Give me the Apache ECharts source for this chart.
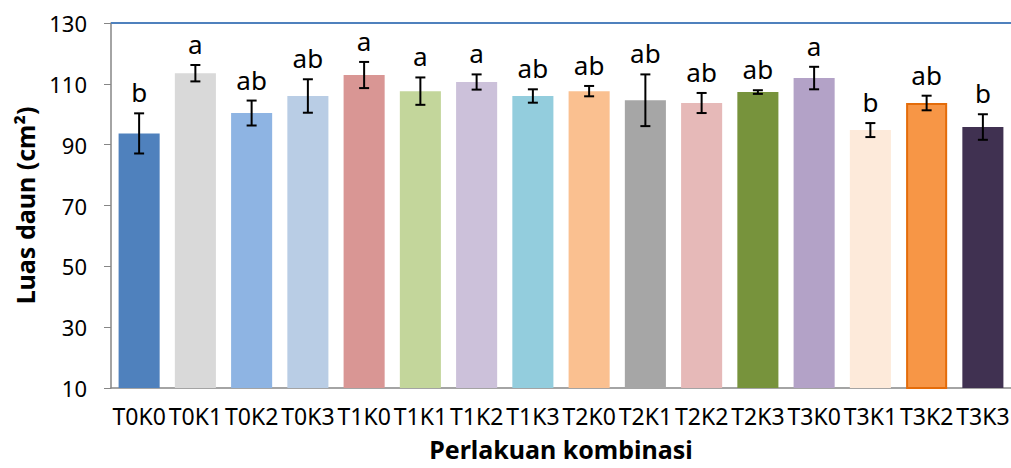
<!DOCTYPE html>
<html>
<head>
<meta charset="utf-8">
<script src="https://cdn.jsdelivr.net/npm/echarts@6/dist/echarts.min.js"></script>
<style>
  html, body { margin: 0; padding: 0; background: #fff; }
  #chart { width: 1011px; height: 468px; }
</style>
</head>
<body>
<div id="chart"></div>
<script>
// data
const categories = ["T0K0", "T0K1", "T0K2", "T0K3", "T1K0", "T1K1", "T1K2", "T1K3",
  "T2K0", "T2K1", "T2K2", "T2K3", "T3K0", "T3K1", "T3K2", "T3K3"];
const means = [93.7, 113.5, 100.4, 106.0, 112.9, 107.6, 110.6, 106.0,
  107.6, 104.6, 103.7, 107.3, 111.9, 94.8, 103.7, 95.8];
const errors = [6.6, 2.7, 4.1, 5.5, 4.3, 4.5, 2.5, 2.2,
  1.7, 8.5, 3.3, 0.6, 3.7, 2.3, 2.4, 4.2];
const letters = ["b", "a", "ab", "ab", "a", "a", "a", "ab",
  "ab", "ab", "ab", "ab", "a", "b", "ab", "b"];
const colors = ["#4F81BD", "#D9D9D9", "#8EB4E3", "#B9CDE5", "#D99694", "#C3D69B",
  "#CCC1DA", "#93CDDD", "#FAC090", "#A6A6A6", "#E6B9B8", "#77933C",
  "#B3A2C7", "#FDEADA", "#F79646", "#403151"];

const font = "'Noto Sans', sans-serif";
const myChart = echarts.init(document.getElementById("chart"), null, { renderer: "svg" });

const barData = means.map((v, i) => ({
  value: v,
  itemStyle: {
    color: colors[i],
    borderColor: i === 14 ? "#E46C0A" : colors[i],
    borderWidth: i === 14 ? 2 : 0,
  },
}));

const errData = means.map((v, i) => [i, v - errors[i], v + errors[i]]);

const option = {
  animation: false,
  grid: {
    left: 111,
    right: 0,
    top: 23,
    bottom: 80,
    containLabel: false,
    outerBoundsMode: "none",
  },
  xAxis: {
    type: "category",
    data: categories,
    name: "Perlakuan kombinasi",
    nameLocation: "middle",
    nameGap: 48,
    nameTextStyle: { fontFamily: font, fontSize: 25, fontWeight: "bold", color: "#000", lineHeight: 26 },
    axisLine: { lineStyle: { color: "#868686", width: 1.5 } },
    axisTick: { length: 6, lineStyle: { color: "#868686" } },
    axisLabel: { fontFamily: font, fontSize: 23, color: "#000", margin: 16, interval: 0 },
  },
  yAxis: {
    type: "value",
    min: 10,
    max: 130,
    interval: 20,
    name: "Luas daun (cm²)",
    nameLocation: "middle",
    nameGap: 74,
    nameTextStyle: { fontFamily: font, fontSize: 25, fontWeight: "bold", color: "#000" },
    axisLine: { show: true, lineStyle: { color: "#868686", width: 1.5 } },
    axisTick: { show: true, length: 7, lineStyle: { color: "#868686" } },
    axisLabel: { fontFamily: font, fontSize: 22, color: "#000", margin: 24 },
    splitLine: { show: false },
  },
  series: [
    {
      type: "bar",
      data: barData,
      barCategoryGap: "27%",
      markLine: {
        silent: true,
        symbol: "none",
        label: { show: false },
        lineStyle: { color: "#4F81BD", width: 2, type: "solid" },
        data: [{ yAxis: 130 }],
      },
    },
    {
      type: "custom",
      data: errData,
      z: 10,
      renderItem: function (params, api) {
        const lo = api.coord([api.value(0), api.value(1)]);
        const hi = api.coord([api.value(0), api.value(2)]);
        const cap = 5;
        const style = { stroke: "#000", lineWidth: 2 };
        return {
          type: "group",
          children: [
            { type: "line", shape: { x1: hi[0], y1: hi[1], x2: lo[0], y2: lo[1] }, style: style },
            { type: "line", shape: { x1: hi[0] - cap, y1: hi[1], x2: hi[0] + cap, y2: hi[1] }, style: style },
            { type: "line", shape: { x1: lo[0] - cap, y1: lo[1], x2: lo[0] + cap, y2: lo[1] }, style: style },
            {
              type: "text",
              style: {
                x: hi[0],
                y: hi[1] - 8,
                text: letters[params.dataIndex],
                fill: "#000",
                font: "26px " + font,
                textAlign: "center",
                textVerticalAlign: "bottom",
              },
            },
          ],
        };
      },
    },
  ],
};

myChart.setOption(option);
</script>
</body>
</html>
